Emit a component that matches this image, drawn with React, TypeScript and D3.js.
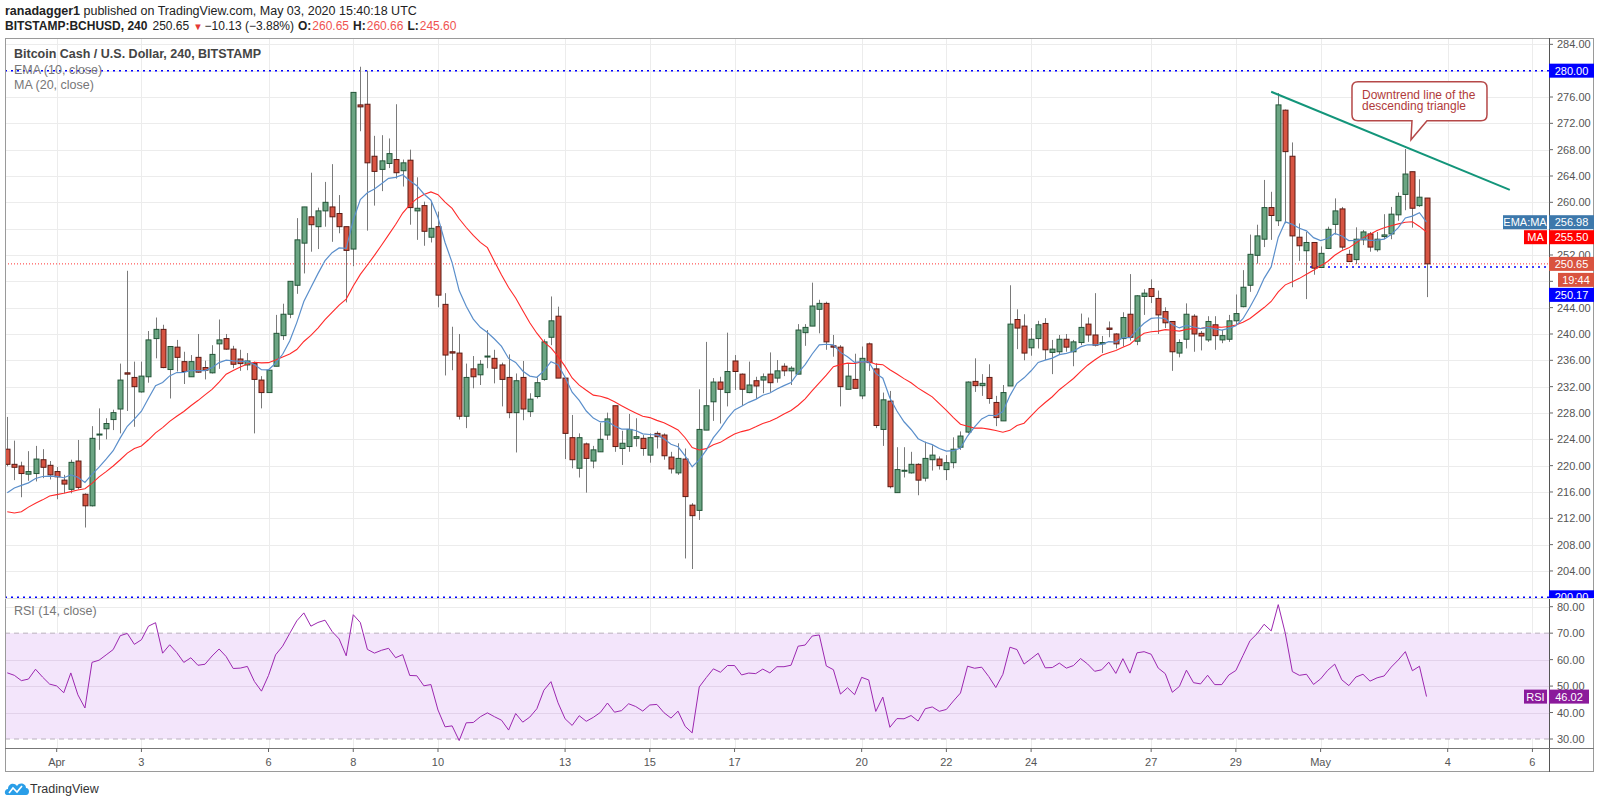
import React, { useMemo } from 'react';
import * as d3 from 'd3';

// BCHUSD 4h candles (index 0 = Mar 30 20:00)
const opens = [
  222.5, 220.2, 219.95, 218.7, 218.8, 220.9, 220.05, 219.1, 217.8, 216.4, 220.7, 215.65, 213.9, 224.7, 225.6, 227.0, 228.6, 234.1, 233.4, 231.2,
  233.5, 239.3, 240.7, 234.6, 238.0, 235.8, 233.5, 236.45, 234.9, 234.1, 238.5, 239.3, 237.7, 236.2, 235.3, 235.55, 233.0, 231.1, 235.1, 239.75,
  243.0, 247.4, 253.8, 257.8, 256.3, 258.7, 259.3, 258.3, 256.3, 252.9, 274.8, 274.9, 267.0, 265.0, 265.9, 266.5, 264.8, 266.4, 258.7, 259.5,
  254.7, 256.3, 244.5, 237.3, 237.1, 227.5, 234.7, 233.8, 236.5, 236.3, 235.3, 233.4, 228.05, 233.4, 228.2, 230.5, 233.1, 239.5, 242.7, 233.3,
  224.25, 219.6, 223.3, 220.7, 222.1, 224.65, 229.1, 222.6, 222.9, 224.15, 224.15, 221.6, 224.9, 224.65, 221.3, 218.9, 221.0, 214.0, 213.2, 225.4,
  229.7, 232.7, 231.1, 235.9, 233.9, 231.1, 232.9, 233.0, 233.9, 233.3, 235.1, 234.4, 233.9, 240.2, 241.2, 243.75, 244.65, 238.2, 238.0, 231.6,
  233.1, 230.6, 238.5, 234.7, 225.5, 229.8, 215.9, 219.2, 218.9, 220.2, 218.1, 220.9, 221.0, 219.4, 220.45, 222.8, 225.1, 232.8, 232.15, 233.4,
  229.6, 226.8, 232.1, 242.2, 241.2, 237.9, 239.3, 241.6, 237.2, 237.3, 239.2, 237.3, 238.7, 241.5, 239.85, 238.5, 240.9, 240.0, 239.3, 243.0,
  238.9, 245.7, 246.9, 245.4, 243.4, 241.9, 237.1, 239.2, 242.7, 240.1, 239.1, 241.4, 239.1, 239.2, 242.0, 244.15, 247.4, 251.95, 254.4, 259.2,
  257.2, 274.0, 267.0, 254.7, 252.65, 253.9, 250.1, 253.0, 256.65, 259.0, 252.1, 251.3, 254.3, 255.2, 252.8, 254.8, 255.2, 258.1, 261.2, 264.65,
  259.5, 260.65,
];
const highs = [
  227.4, 223.8, 220.6, 222.2, 223.0, 222.5, 220.7, 219.8, 218.6, 220.9, 223.9, 215.8, 226.0, 228.7, 227.2, 228.5, 235.5, 249.6, 235.8, 235.8,
  240.45, 242.5, 241.4, 238.1, 239.1, 237.3, 236.8, 240.0, 235.95, 238.3, 242.2, 240.0, 238.2, 237.6, 237.1, 235.8, 233.6, 234.5, 242.9, 244.6,
  248.0, 257.6, 259.3, 264.5, 259.2, 263.1, 265.8, 261.1, 256.3, 276.7, 280.6, 280.0, 270.1, 270.2, 269.7, 274.9, 266.5, 268.0, 263.8, 260.1,
  260.1, 258.6, 246.2, 241.1, 240.0, 235.5, 236.65, 236.05, 240.6, 237.6, 235.65, 236.9, 234.0, 235.9, 231.0, 233.4, 239.2, 245.7, 244.15, 233.3,
  227.7, 224.9, 223.5, 223.0, 226.5, 228.05, 229.1, 225.3, 227.85, 227.2, 224.65, 224.9, 225.2, 224.9, 222.1, 223.4, 222.6, 214.3, 231.6, 238.8,
  233.3, 233.5, 240.2, 236.8, 234.0, 235.8, 233.5, 234.0, 237.2, 236.05, 235.55, 235.1, 241.5, 241.5, 247.8, 245.2, 244.9, 239.85, 238.3, 235.55,
  237.0, 238.1, 238.7, 235.55, 231.1, 231.35, 222.8, 222.8, 222.1, 220.35, 223.65, 223.1, 221.4, 221.6, 224.3, 225.2, 232.8, 236.3, 233.9, 235.4,
  230.6, 232.25, 247.4, 243.75, 243.0, 240.9, 242.0, 242.4, 239.1, 239.85, 240.0, 239.1, 243.1, 242.5, 246.2, 239.7, 241.9, 240.1, 243.3, 249.1,
  245.9, 246.8, 248.3, 246.6, 244.05, 241.9, 239.2, 244.65, 243.0, 240.45, 242.7, 242.7, 240.6, 242.9, 246.0, 249.7, 255.1, 256.6, 263.4, 261.6,
  276.6, 274.1, 269.1, 256.8, 255.5, 253.9, 253.3, 256.3, 260.6, 259.3, 252.8, 256.2, 255.8, 255.5, 255.5, 258.2, 259.3, 261.5, 268.1, 264.65,
  263.5, 260.66,
];
const lows = [
  219.9, 217.8, 215.2, 217.7, 217.6, 218.1, 217.9, 214.9, 215.8, 215.8, 216.4, 210.6, 213.8, 222.4, 224.0, 225.4, 224.9, 228.3, 225.9, 231.1,
  232.6, 236.3, 234.8, 230.2, 234.3, 232.4, 233.5, 234.1, 233.1, 234.0, 234.7, 237.6, 234.8, 234.4, 234.5, 224.9, 228.7, 231.1, 235.1, 239.1,
  242.4, 246.1, 249.2, 252.5, 252.9, 256.3, 254.0, 255.3, 244.8, 250.3, 270.8, 255.7, 259.5, 261.7, 265.2, 263.6, 262.4, 256.6, 254.3, 253.4,
  253.9, 244.05, 233.7, 234.5, 227.0, 225.7, 231.75, 232.25, 234.8, 232.5, 229.0, 227.2, 222.0, 226.9, 227.4, 230.2, 232.9, 238.3, 233.3, 221.0,
  219.6, 218.2, 215.9, 219.6, 222.1, 223.9, 222.1, 220.1, 222.1, 222.9, 221.5, 220.45, 222.6, 220.9, 218.8, 218.6, 205.9, 204.3, 211.75, 225.4,
  226.8, 226.4, 229.0, 231.5, 229.1, 231.0, 230.1, 231.0, 231.2, 232.6, 233.6, 232.25, 233.9, 238.2, 241.2, 240.1, 237.6, 236.55, 229.0, 231.6,
  231.75, 230.1, 234.4, 225.7, 223.0, 216.55, 215.9, 218.2, 218.8, 215.5, 217.6, 219.25, 219.4, 217.8, 219.6, 222.4, 224.9, 231.2, 230.6, 229.4,
  226.0, 226.8, 232.1, 237.7, 236.0, 236.7, 237.8, 236.05, 233.9, 236.8, 237.3, 235.1, 238.3, 238.8, 238.1, 237.1, 239.5, 237.8, 238.1, 239.0,
  238.3, 242.9, 244.7, 240.0, 240.9, 234.4, 236.45, 237.8, 237.3, 237.5, 238.8, 237.6, 238.6, 238.8, 241.5, 244.05, 246.4, 250.7, 253.2, 254.3,
  256.4, 256.8, 247.1, 251.1, 245.3, 249.0, 250.1, 252.9, 255.1, 252.8, 251.0, 250.6, 253.5, 252.5, 252.5, 254.4, 254.4, 257.2, 258.8, 256.15,
  259.3, 245.6,
];
const closes = [
  220.2, 219.75, 218.8, 219.1, 221.0, 219.75, 218.6, 218.3, 217.2, 220.5, 216.7, 213.9, 224.15, 224.8, 226.4, 228.05, 233.0, 233.9, 232.0, 233.6,
  239.1, 240.7, 234.9, 238.1, 236.45, 234.3, 235.8, 234.2, 234.5, 236.9, 239.1, 237.7, 235.4, 235.5, 235.9, 233.1, 231.1, 234.5, 240.1, 243.0,
  248.0, 254.3, 259.3, 256.6, 258.7, 260.0, 257.8, 256.3, 252.7, 276.7, 274.5, 266.0, 264.7, 266.3, 267.4, 264.5, 266.0, 259.2, 259.1, 255.6,
  256.05, 245.9, 236.8, 237.1, 227.5, 233.4, 233.5, 235.4, 236.65, 234.8, 233.1, 228.05, 232.9, 228.6, 230.1, 232.6, 238.8, 242.0, 233.3, 224.9,
  220.9, 224.25, 221.1, 222.4, 224.0, 227.1, 222.9, 223.4, 225.5, 224.4, 222.6, 224.25, 224.4, 221.5, 219.5, 221.1, 215.3, 212.4, 225.5, 229.1,
  232.7, 231.6, 234.3, 234.3, 231.6, 232.25, 232.1, 233.5, 232.6, 234.4, 234.4, 234.8, 240.6, 241.0, 244.25, 244.65, 238.8, 238.0, 232.0, 233.6,
  231.75, 236.3, 235.65, 226.1, 230.0, 216.8, 219.4, 219.3, 220.2, 217.8, 221.1, 221.6, 220.0, 220.45, 222.5, 224.5, 232.7, 232.15, 232.5, 230.2,
  227.3, 231.1, 241.5, 240.9, 237.1, 239.2, 241.4, 237.6, 237.7, 239.2, 238.0, 238.8, 241.0, 239.85, 238.3, 238.7, 240.7, 238.5, 242.5, 239.5,
  245.8, 246.2, 245.7, 242.9, 241.7, 237.3, 238.7, 243.0, 240.0, 239.7, 241.9, 239.75, 239.75, 242.0, 243.1, 247.1, 252.1, 254.9, 259.2, 258.0,
  274.8, 267.7, 254.9, 253.4, 253.9, 250.0, 252.25, 255.9, 258.7, 253.2, 251.0, 254.4, 255.5, 253.2, 254.4, 255.05, 258.2, 260.9, 264.3, 259.1,
  260.78, 250.65,
];

// MA(20) before a full window is visible
const maLead = [213.0, 212.8, 213.0, 213.7, 214.3, 214.8, 215.4, 215.6, 215.8, 216.05, 216.3, 216.5, 217.3, 218.3, 219.1, 219.95, 220.9, 221.9, 222.6];
const emaSeed = 215.9;
const rsiSeedGain = 1.1;
const rsiSeedLoss = 0.9;

const dayLabels = ['Apr', '3', '6', '8', '10', '13', '15', '17', '20', '22', '24', '27', '29', 'May', '4', '6'];
const dayIndex = [7, 19, 37, 49, 61, 79, 91, 103, 121, 133, 145, 162, 174, 186, 204, 216];
const priceTicks = [204, 208, 212, 216, 220, 224, 228, 232, 236, 240, 244, 248, 252, 256, 260, 264, 268, 272, 276, 280, 284];
const rsiTicks = [30, 40, 50, 60, 70, 80];

const levelHigh = 280;
const levelLow = 200;
const levelSupport = 250.17;
const lastPrice = 250.65;
const emaLast = 256.98;
const maLast = 255.5;
const rsiLast = 46.02;
const trendFrom = { i: 179, p: 276.8 };
const trendTo = { i: 212.8, p: 261.9 };
const calloutTip = { i: 198.8, p: 269.5 };

const FONT = "'Liberation Sans', Arial, sans-serif";
const UP = '#6ba583', UP_LINE = '#225437';
const DOWN = '#d75442', DOWN_LINE = '#5b1a13';

const L = 5, R = 1594, TOP = 38, AXIS_X = 1549, MAIN_B = 598, RSI_B = 748, BOTTOM = 772;

export default function App() {
  const x = d3.scaleLinear().domain([7, 204]).range([56.7, 1447.7]);
  const y = d3.scaleLinear().domain([200, 280]).range([597.3, 70.67]);
  const yr = d3.scaleLinear().domain([30, 80]).range([739, 606.7]);

  const { ema, ma, rsi } = useMemo(() => {
    const k = 2 / 11;
    const ema: number[] = [];
    closes.forEach((c, i) => ema.push(i === 0 ? emaSeed : ema[i - 1] + k * (c - ema[i - 1])));
    const ma = closes.map((_, i) => (i < 19 ? maLead[i] : d3.mean(closes.slice(i - 19, i + 1))!));
    let g = rsiSeedGain, l = rsiSeedLoss;
    const rsi = [100 - 100 / (1 + g / l)];
    for (let i = 1; i < closes.length; i++) {
      const ch = closes[i] - closes[i - 1];
      g = (g * 13 + Math.max(ch, 0)) / 14;
      l = (l * 13 + Math.max(-ch, 0)) / 14;
      rsi.push(100 - 100 / (1 + g / l));
    }
    return { ema, ma, rsi };
  }, []);

  const priceLine = d3.line<number>().x((_, i) => x(i)).y((d) => y(d));
  const rsiLine = d3.line<number>().x((_, i) => x(i)).y((d) => yr(d));

  // right-axis badges, stacked so they don't overlap
  const bh = 14;
  const emaY = y(emaLast);
  const maY = Math.max(y(maLast), emaY + bh + 1);
  const lastY = y(lastPrice);
  const cdY = lastY + bh + 2;
  const supY = Math.max(y(levelSupport), cdY + bh + 1);
  const badgeYs = [y(levelHigh), y(levelLow), emaY, lastY, cdY, supY];
  const visibleTicks = priceTicks.filter((t) => badgeYs.every((b) => Math.abs(y(t) - b) > 7.5));

  const tip = { x: x(calloutTip.i), y: y(calloutTip.p) };
  const bx0 = tip.x - 59, bx1 = tip.x + 76, by0 = tip.y - 58, by1 = tip.y - 19, rr = 6;
  const calloutPath =
    `M${bx0 + rr},${by0} H${bx1 - rr} Q${bx1},${by0} ${bx1},${by0 + rr} V${by1 - rr} Q${bx1},${by1} ${bx1 - rr},${by1} ` +
    `H${tip.x + 16} L${tip.x},${tip.y} L${tip.x + 1},${by1} H${bx0 + rr} Q${bx0},${by1} ${bx0},${by1 - rr} V${by0 + rr} Q${bx0},${by0} ${bx0 + rr},${by0} Z`;

  const badge = (cy: number, x0: number, x1: number, fill: string, text: string, key: string) => (
    <g key={key}>
      <rect x={x0} y={cy - bh / 2} width={x1 - x0} height={bh} fill={fill} />
      <text x={x0 + (x1 - x0) / 2} y={cy + 4} textAnchor="middle" fill="#fff" fontSize={11} fontFamily={FONT}>
        {text}
      </text>
    </g>
  );

  return (
    <svg width={1600} height={805} style={{ position: 'absolute', left: 0, top: 0, background: '#fff' }} fontFamily={FONT}>
      <defs>
        <clipPath id="mainClip">
          <rect x={L} y={TOP} width={AXIS_X - L} height={MAIN_B - TOP} />
        </clipPath>
        <clipPath id="rsiClip">
          <rect x={L} y={MAIN_B} width={AXIS_X - L} height={RSI_B - MAIN_B} />
        </clipPath>
        <clipPath id="axisMainClip">
          <rect x={AXIS_X} y={TOP} width={R - AXIS_X} height={MAIN_B - TOP} />
        </clipPath>
      </defs>

      {/* header */}
      <text x={5} y={15} fontSize={12.5} fill="#222">
        <tspan fontWeight="bold">ranadagger1</tspan> published on TradingView.com, May 03, 2020 15:40:18 UTC
      </text>
      <text x={5} y={30} fontSize={12} fill="#222">
        <tspan fontWeight="bold">BITSTAMP:BCHUSD, 240</tspan>
        <tspan dx={5}>250.65</tspan>
        <tspan dx={4} fill="#e53935" fontSize={9.5}>▼</tspan>
        <tspan dx={2}>−10.13 (−3.88%)</tspan>
        <tspan dx={4} fontWeight="bold">O:</tspan>
        <tspan dx={1} fill="#ef5350">260.65</tspan>
        <tspan dx={4} fontWeight="bold">H:</tspan>
        <tspan dx={1} fill="#ef5350">260.66</tspan>
        <tspan dx={4} fontWeight="bold">L:</tspan>
        <tspan dx={1} fill="#ef5350">245.60</tspan>
      </text>

      {/* grid */}
      <g stroke="#ececec" strokeWidth={1}>
        {priceTicks.map((t) => (
          <line key={t} x1={L} x2={AXIS_X} y1={Math.round(y(t)) + 0.5} y2={Math.round(y(t)) + 0.5} />
        ))}
        {dayIndex.map((di) => (
          <line key={di} x1={Math.round(x(di)) + 0.5} x2={Math.round(x(di)) + 0.5} y1={TOP} y2={RSI_B} />
        ))}
      </g>

      {/* main pane */}
      <g clipPath="url(#mainClip)">
        <line x1={L} x2={AXIS_X} y1={y(lastPrice)} y2={y(lastPrice)} stroke="#ff3030" strokeDasharray="1 2" />
        <line x1={L} x2={AXIS_X} y1={y(levelHigh)} y2={y(levelHigh)} stroke="#0000ff" strokeWidth={1.5} strokeDasharray="2 4" />
        <line x1={L} x2={AXIS_X} y1={y(levelLow)} y2={y(levelLow)} stroke="#0000ff" strokeWidth={1.5} strokeDasharray="2 4" />
        <line x1={x(184.5)} x2={AXIS_X} y1={y(levelSupport)} y2={y(levelSupport)} stroke="#0000ff" strokeWidth={1.5} strokeDasharray="2 4" />
        {closes.map((c, i) => {
          const o = opens[i];
          const up = c >= o;
          const cx = Math.round(x(i)) + 0.5;
          const top = y(Math.max(o, c));
          const h = Math.max(1, Math.abs(y(o) - y(c)));
          return (
            <g key={i}>
              <line x1={cx} x2={cx} y1={y(highs[i])} y2={y(lows[i])} stroke="#7a7a7a" />
              <rect x={cx - 2.5} y={top} width={5} height={h} fill={up ? UP : DOWN} stroke={up ? UP_LINE : DOWN_LINE} strokeWidth={1} />
            </g>
          );
        })}
        <path d={priceLine(ma) ?? ''} fill="none" stroke="#ff2a2a" strokeWidth={1.1} />
        <path d={priceLine(ema) ?? ''} fill="none" stroke="#5b8fcb" strokeWidth={1.2} />
        <line x1={x(trendFrom.i)} y1={y(trendFrom.p)} x2={x(trendTo.i)} y2={y(trendTo.p)} stroke="#13957a" strokeWidth={2} />
        <path d={calloutPath} fill="#fff" stroke="#b54848" strokeWidth={1.5} />
        <text x={bx0 + 10} y={by0 + 17} fontSize={12} fill="#b03a3a">Downtrend line of the</text>
        <text x={bx0 + 10} y={by0 + 28.5} fontSize={12} fill="#b03a3a">descending triangle</text>
      </g>

      {/* legends */}
      <text x={14} y={58} fontSize={12.5} fill="#444" fontWeight={600}>Bitcoin Cash / U.S. Dollar, 240, BITSTAMP</text>
      <text x={14} y={74} fontSize={12.5} fill="#777">EMA (10, close)</text>
      <text x={14} y={89} fontSize={12.5} fill="#777">MA (20, close)</text>

      {/* rsi pane */}
      <g clipPath="url(#rsiClip)">
        <rect x={L} y={yr(70)} width={AXIS_X - L} height={yr(30) - yr(70)} fill="#f3e5fb" />
        {rsiTicks.filter((t) => t !== 70 && t !== 30).map((t) => (
          <line key={t} x1={L} x2={AXIS_X} y1={Math.round(yr(t)) + 0.5} y2={Math.round(yr(t)) + 0.5} stroke={t === 80 ? '#ececec' : '#e2d2ea'} />
        ))}
        <line x1={L} x2={AXIS_X} y1={yr(70)} y2={yr(70)} stroke="#b9b0bd" strokeDasharray="5 4" />
        <line x1={L} x2={AXIS_X} y1={yr(30)} y2={yr(30)} stroke="#b9b0bd" strokeDasharray="5 4" />
        <path d={rsiLine(rsi) ?? ''} fill="none" stroke="#9c27b0" strokeWidth={1} />
      </g>
      <text x={14} y={615} fontSize={12.5} fill="#777">RSI (14, close)</text>

      {/* frame */}
      <rect x={L + 0.5} y={TOP + 0.5} width={R - L - 1} height={BOTTOM - TOP - 1} fill="none" stroke="#9a9a9a" />
      <line x1={AXIS_X + 0.5} x2={AXIS_X + 0.5} y1={TOP} y2={BOTTOM} stroke="#555" />
      <line x1={L} x2={R} y1={MAIN_B + 0.5} y2={MAIN_B + 0.5} stroke="#dcdcdc" />
      <line x1={L} x2={R} y1={RSI_B + 0.5} y2={RSI_B + 0.5} stroke="#777" />

      {/* price axis */}
      <g fontSize={11} fill="#555">
        {priceTicks.map((t) => (
          <line key={t} x1={AXIS_X} x2={AXIS_X + 4} y1={y(t)} y2={y(t)} stroke="#666" />
        ))}
        {visibleTicks.map((t) => (
          <text key={t} x={1557} y={y(t) + 4}>{t.toFixed(2)}</text>
        ))}
        {rsiTicks.map((t) => (
          <g key={t}>
            <line x1={AXIS_X} x2={AXIS_X + 4} y1={yr(t)} y2={yr(t)} stroke="#666" />
            <text x={1557} y={yr(t) + 4}>{t.toFixed(2)}</text>
          </g>
        ))}
      </g>
      <g clipPath="url(#axisMainClip)">
        {badge(y(levelHigh), AXIS_X, R, '#0000ff', levelHigh.toFixed(2), 'hi')}
        {badge(y(levelLow), AXIS_X, R, '#0000ff', levelLow.toFixed(2), 'lo')}
      </g>
      {badge(emaY, 1503, 1547, '#3d78ab', 'EMA:MA', 'emal')}
      {badge(emaY, AXIS_X, R, '#3d78ab', emaLast.toFixed(2), 'emav')}
      {badge(maY, 1524, 1547, '#ff0000', 'MA', 'mal')}
      {badge(maY, AXIS_X, R, '#ff0000', maLast.toFixed(2), 'mav')}
      {badge(lastY, AXIS_X, R, '#d9533f', lastPrice.toFixed(2), 'last')}
      {badge(cdY, 1558, R, '#d9533f', '19:44', 'cd')}
      {badge(supY, AXIS_X, R, '#0000ff', levelSupport.toFixed(2), 'sup')}
      {badge(yr(rsiLast), 1524, 1547, '#8b1a9b', 'RSI', 'rsil')}
      {badge(yr(rsiLast), AXIS_X, 1589, '#8b1a9b', rsiLast.toFixed(2), 'rsiv')}

      {/* time axis */}
      <g fontSize={11} fill="#555">
        {dayLabels.map((lab, k) => (
          <g key={lab + k}>
            <line x1={x(dayIndex[k])} x2={x(dayIndex[k])} y1={RSI_B} y2={RSI_B + 4} stroke="#666" />
            <text x={x(dayIndex[k])} y={766} textAnchor="middle">{lab}</text>
          </g>
        ))}
      </g>

      {/* footer logo */}
      <g transform="translate(5,781)">
        <path d="M2,14 C-1,14 -1,8 3,8 C3,3 9,1 12,5 C14,1 21,2 21,7 C25,7 25,14 21,14 Z" fill="#2a9ee8" />
        <polyline points="4,12 8,7 12,11 17,5" fill="none" stroke="#fff" strokeWidth={1.6} />
      </g>
      <text x={30} y={793} fontSize={12.5} fill="#333">TradingView</text>
    </svg>
  );
}
